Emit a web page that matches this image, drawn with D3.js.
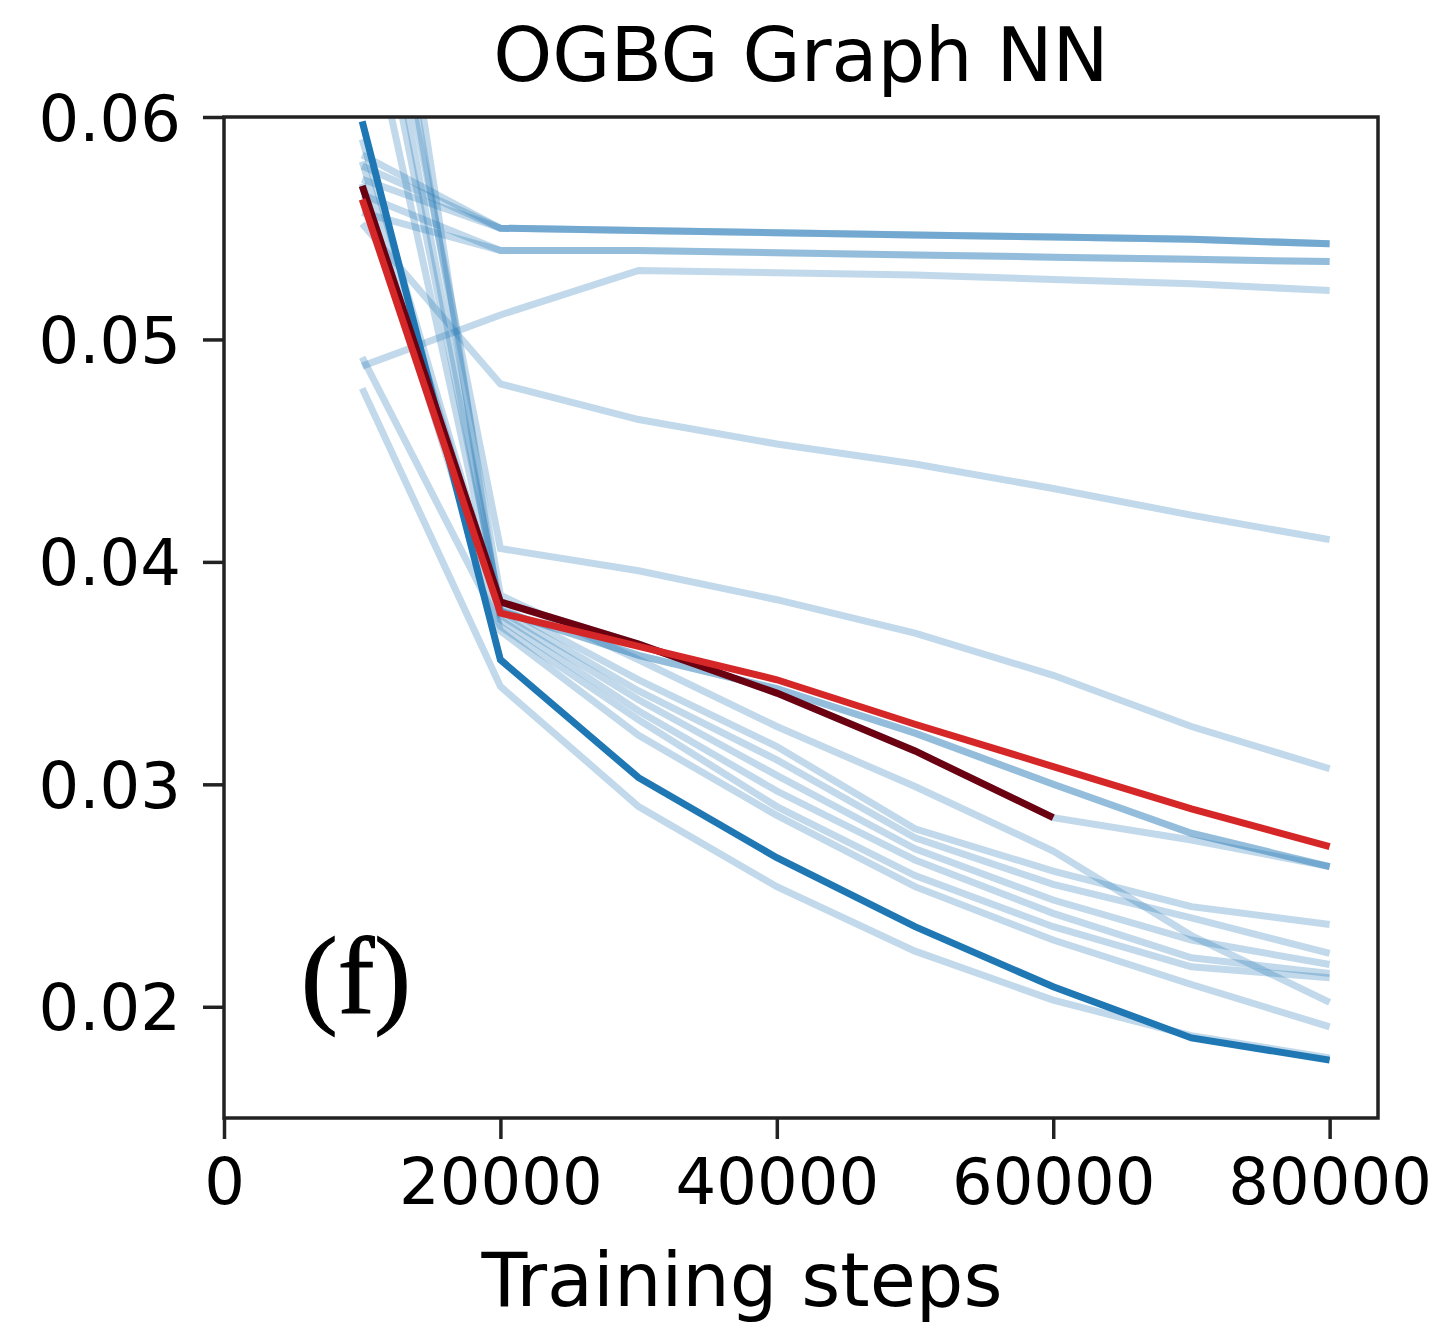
<!DOCTYPE html>
<html>
<head>
<meta charset="utf-8">
<script src="https://cdn.jsdelivr.net/npm/d3@7"></script>
<style>
    body { margin: 0; background: #fff; }
    text { font-family: "DejaVu Sans", sans-serif; fill: #000; }
</style>
</head>
<body>
<div id="visualization"></div>
<script>
// training steps where every run was evaluated
const steps = [10000, 20000, 30000, 40000, 50000, 60000, 70000, 80000];

// all other runs (light blue)
const lightRuns = [
    [0.0583, 0.0550, 0.0549, 0.0548, 0.0547, 0.0546, 0.0545, 0.0543],
    [0.0578, 0.0550, 0.0549, 0.0548, 0.0547, 0.0546, 0.0545, 0.0543],
    [0.0572, 0.0550, 0.0549, 0.0548, 0.0547, 0.0546, 0.0545, 0.0543],
    [0.0565, 0.0540, 0.0540, 0.0539, 0.0538, 0.0537, 0.0536, 0.0535],
    [0.0557, 0.0540, 0.0540, 0.0539, 0.0538, 0.0537, 0.0536, 0.0535],
    [0.0488, 0.0511, 0.0531, 0.0530, 0.0529, 0.0527, 0.0525, 0.0522],
    [0.0552, 0.0480, 0.0464, 0.0453, 0.0444, 0.0433, 0.0421, 0.0410],
    [0.0720, 0.0406, 0.0396, 0.0383, 0.0368, 0.0349, 0.0326, 0.0307],
    [0.0569, 0.0382, 0.0363, 0.0341, 0.0315, 0.0285, 0.0275, 0.0263],
    [0.0710, 0.0378, 0.0358, 0.0343, 0.0323, 0.0300, 0.0278, 0.0263],
    [0.0580, 0.0378, 0.0358, 0.0343, 0.0323, 0.0300, 0.0278, 0.0263],
    [0.0745, 0.0385, 0.0356, 0.0326, 0.0299, 0.0270, 0.0232, 0.0202],
    [0.0690, 0.0380, 0.0347, 0.0317, 0.0280, 0.0261, 0.0245, 0.0237],
    [0.0590, 0.0378, 0.0342, 0.0311, 0.0276, 0.0255, 0.0240, 0.0224],
    [0.0660, 0.0376, 0.0338, 0.0304, 0.0271, 0.0248, 0.0230, 0.0219],
    [0.0780, 0.0374, 0.0333, 0.0297, 0.0266, 0.0242, 0.0222, 0.0215],
    [0.0492, 0.0371, 0.0329, 0.0290, 0.0259, 0.0236, 0.0218, 0.0213],
    [0.0570, 0.0369, 0.0322, 0.0286, 0.0254, 0.0230, 0.0210, 0.0191],
    [0.0478, 0.0344, 0.0290, 0.0254, 0.0225, 0.0203, 0.0187, 0.0177]
];

// highlighted runs
const bestRun = [0.0598, 0.0356, 0.0303, 0.0267, 0.0236, 0.0209, 0.0186, 0.0176];
const redRun = [0.0563, 0.0377, 0.0362, 0.0347, 0.0327, 0.0308, 0.0289, 0.0272];
const darkRedRun = [0.0569, 0.0382, 0.0363, 0.0341, 0.0315, 0.0285];

const xTicks = [0, 20000, 40000, 60000, 80000];
const yTicks = [0.02, 0.03, 0.04, 0.05, 0.06];

document.addEventListener("DOMContentLoaded", function () {

    const margin = { top: 117, right: 56, bottom: 205, left: 224 },
        width = 1434 - margin.left - margin.right,
        height = 1323 - margin.top - margin.bottom;

    const svg = d3.select("#visualization").append("svg")
        .attr("width", width + margin.left + margin.right)
        .attr("height", height + margin.top + margin.bottom)
        .append("g")
        .attr("transform", `translate(${margin.left},${margin.top})`);

    const xScale = d3.scaleLinear().domain([0, 83500]).range([0, width]);
    const yScale = d3.scaleLinear().domain([0.015, 0.06]).range([height, 0]);

    svg.append("clipPath").attr("id", "plot-area")
        .append("rect").attr("width", width).attr("height", height);

    const line = d3.line()
        .x((d, i) => xScale(steps[i]))
        .y(d => yScale(d));

    const plot = svg.append("g").attr("clip-path", "url(#plot-area)");

    // light runs
    plot.selectAll(".run")
        .data(lightRuns)
        .enter().append("path")
        .attr("class", "run")
        .attr("d", line)
        .attr("fill", "none")
        .attr("stroke", "#1f77b4")
        .attr("stroke-opacity", 0.28)
        .attr("stroke-width", 7);

    const highlights = [
        { values: bestRun, color: "#1f77b4" },
        { values: darkRedRun, color: "#6a0010" },
        { values: redRun, color: "#d62728" }
    ];

    plot.selectAll(".highlight")
        .data(highlights)
        .enter().append("path")
        .attr("class", "highlight")
        .attr("d", d => line(d.values))
        .attr("fill", "none")
        .attr("stroke", d => d.color)
        .attr("stroke-width", 7);

    // axes
    const xAxis = d3.axisBottom(xScale).tickValues(xTicks).tickFormat(d3.format("d"))
        .tickSize(21).tickPadding(20);
    const yAxis = d3.axisLeft(yScale).tickValues(yTicks).tickFormat(d3.format(".2f"))
        .tickSize(21).tickPadding(22);

    const gx = svg.append("g")
        .attr("transform", `translate(0,${height})`)
        .call(xAxis);
    const gy = svg.append("g").call(yAxis);

    [gx, gy].forEach(g => {
        g.select(".domain").remove();
        g.selectAll(".tick line").attr("stroke", "#222").attr("stroke-width", 3.5);
        g.selectAll(".tick text").style("font-size", "64px").attr("fill", "#000");
    });
    gy.selectAll(".tick text").attr("dy", "0.36em");

    // frame
    svg.append("rect")
        .attr("width", width)
        .attr("height", height)
        .attr("fill", "none")
        .attr("stroke", "#222")
        .attr("stroke-width", 3.5);

    // title
    svg.append("text")
        .attr("text-anchor", "middle")
        .attr("x", width / 2)
        .attr("y", -36)
        .style("font-size", "75px")
        .text("OGBG Graph NN");

    // X axis label
    svg.append("text")
        .attr("text-anchor", "middle")
        .attr("x", 518)
        .attr("y", height + 188)
        .style("font-size", "75px")
        .text("Training steps");

    // panel letter
    svg.append("text")
        .attr("x", 77)
        .attr("y", 896)
        .style("font-family", "'Liberation Serif', serif")
        .style("font-size", "110px")
        .attr("stroke", "#000")
        .attr("stroke-width", 1.2)
        .text("(f)");
});
</script>
</body>
</html>
